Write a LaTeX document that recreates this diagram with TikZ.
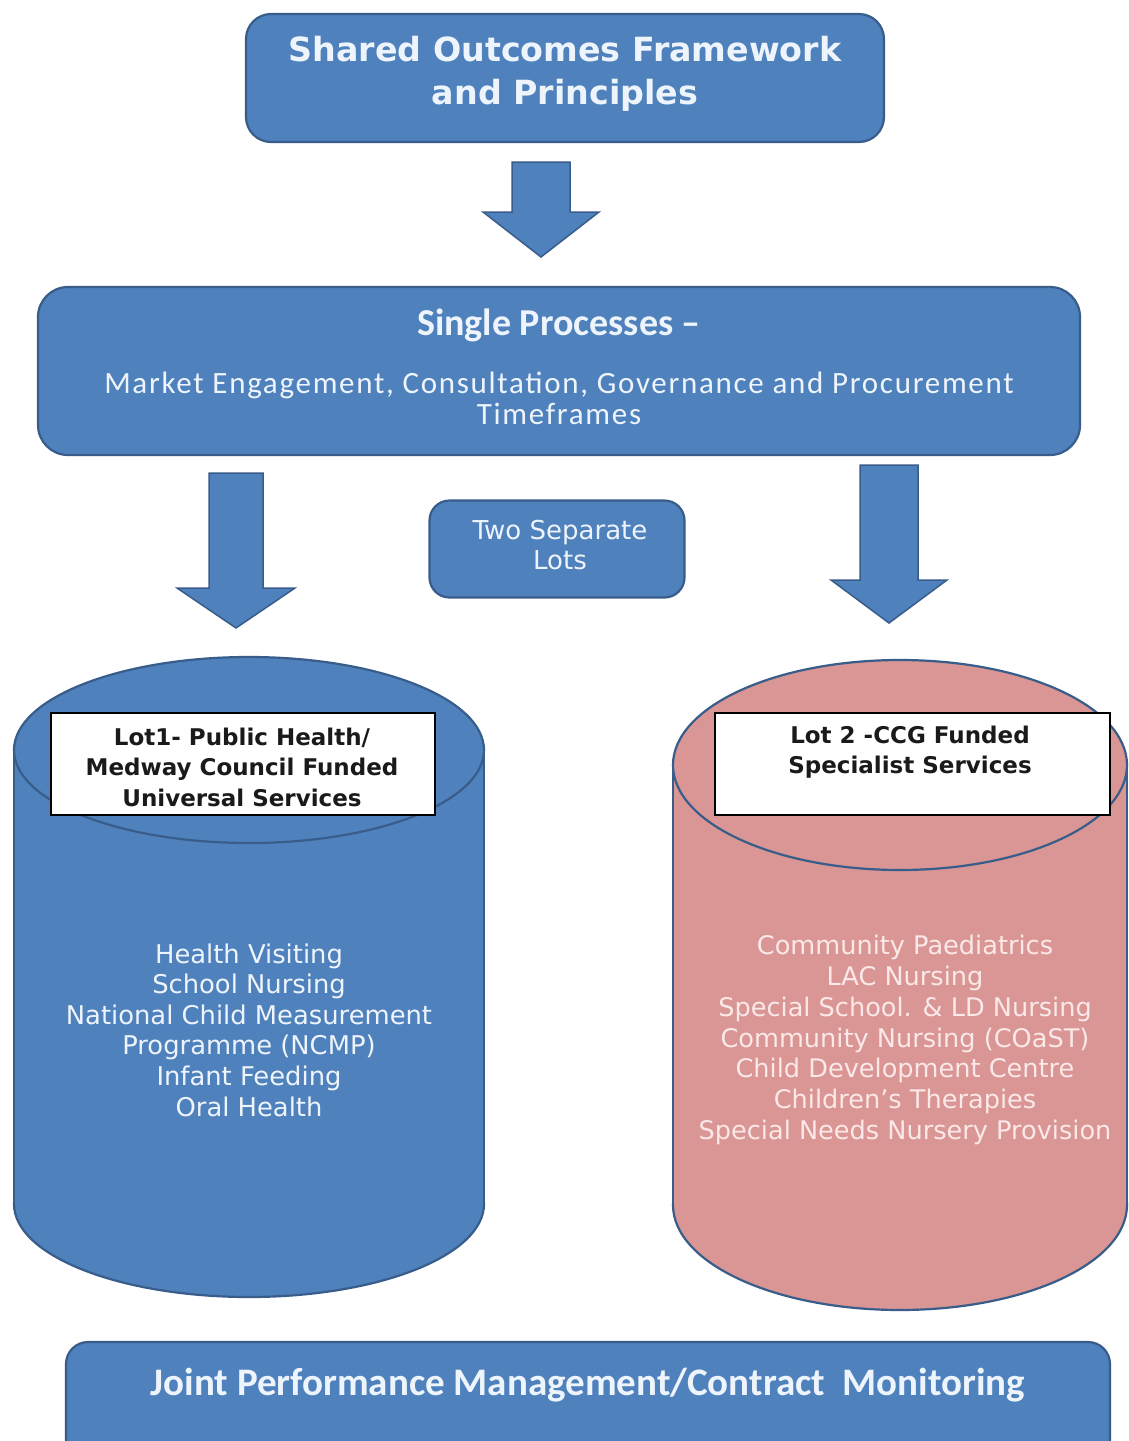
\documentclass[tikz,border=0pt]{standalone}
\usepackage{fontspec}
\setmainfont{DejaVu Sans}
\newfontfamily\calib{Carlito}
\newfontfamily\calibsp[LetterSpace=5.5]{Carlito}
\definecolor{boxblue}{HTML}{4F81BD}
\definecolor{edgeblue}{HTML}{385D8A}
\definecolor{pinkfill}{HTML}{D99694}
\definecolor{lighttxt}{HTML}{EEF4FB}
\definecolor{pinktxt}{HTML}{FBE8E8}
\definecolor{darktxt}{HTML}{1A1A1A}
\newcommand\myblockarrow[7]{% name, cx, ytop, yhead, ytip, shaft half, head half
  \coordinate (#1) at (#2,#3);
  \filldraw[arrowbody] (#2-#6,#3) -- (#2+#6,#3) -- (#2+#6,#4) -- (#2+#7,#4) -- (#2,#5) -- (#2-#7,#4) -- (#2-#6,#4) -- cycle;
}
\newcommand\mycylinder[6]{% fill, cx, rx, ytop, ybot, ry
  \filldraw[fill=#1, draw=edgeblue, line width=2.2pt] (#2,#5) ellipse (#3 and #6);
  \fill[#1] (#2-#3,#4) rectangle (#2+#3,#5);
  \draw[edgeblue, line width=2.2pt] (#2-#3,#4) -- (#2-#3,#5) (#2+#3,#4) -- (#2+#3,#5);
  \filldraw[fill=#1, draw=edgeblue, line width=2.2pt] (#2,#4) ellipse (#3 and #6);
}
\begin{document}
\begin{tikzpicture}[x=1pt,y=-1pt,
  bluebox/.style={draw=edgeblue, fill=boxblue, line width=2.2pt, inner sep=0pt},
  arrowbody/.style={draw=edgeblue, fill=boxblue, line width=1.5pt, line join=miter},
  whitebox/.style={draw=black, fill=white, line width=2pt, inner sep=0pt},
  lighttext/.style={text=lighttxt, align=center, inner sep=0pt}
]
\useasboundingbox (0,0) rectangle (1129,1441);
\fill[white] (0,0) rectangle (1129,1441);

% top box
\node[bluebox, rounded corners=25pt, minimum width=638pt, minimum height=128pt] (top) at (565,78) {};
\node[lighttext, font={\bfseries\fontsize{33.3}{43}\selectfont}] (topT) at (565,74) {Shared Outcomes Framework\\and Principles};

% arrow 1
\myblockarrow{a1}{541}{162}{212}{257}{29}{58}

% single processes box
\node[bluebox, rounded corners=30pt, minimum width=1042pt, minimum height=168pt] (single) at (559,371) {};
\node[lighttext, font={\calib\bfseries\fontsize{38}{40}\selectfont}] (singleT) at (559,325) {Single Processes –};
\node[lighttext, font={\calibsp\fontsize{31}{31}\selectfont}] (singleB) at (559,398) {Market Engagement, Consultation, Governance and Procurement\\Timeframes};

% arrows 2 and 3
\myblockarrow{a2}{236}{473}{588}{628}{27}{59}
\myblockarrow{a3}{889}{465}{580}{623}{29}{58}

% two separate lots
\node[bluebox, rounded corners=20pt, minimum width=255pt, minimum height=97pt] (two) at (557,549) {};
\node[lighttext, font={\fontsize{26}{30}\selectfont}] (twoT) at (560,545) {Two Separate\\Lots};

% cylinders
\mycylinder{boxblue}{249}{235}{750}{1204}{93}
\mycylinder{pinkfill}{900}{227}{765}{1205}{105}
\coordinate (lot1cyl) at (249,975);
\coordinate (lot2cyl) at (900,985);

% white labels
\node[whitebox, minimum width=384pt, minimum height=102pt] (lot1box) at (243,764) {};
\node[text=darktxt, align=center, inner sep=0pt, font={\bfseries\fontsize{23}{30.5}\selectfont}] (lot1T) at (242,767) {Lot1- Public Health/\\Medway Council Funded\\Universal Services};
\node[whitebox, minimum width=395pt, minimum height=102pt] (lot2box) at (912.5,764) {};
\node[text=darktxt, align=center, inner sep=0pt, font={\bfseries\fontsize{23}{30.5}\selectfont}] (lot2T) at (910,752) {Lot 2 -CCG Funded\\Specialist Services};

% lists
\node[lighttext, font={\fontsize{25.8}{30.6}\selectfont}] (list1) at (249,1030) {Health Visiting\\School Nursing\\National Child Measurement\\Programme (NCMP)\\Infant Feeding\\Oral Health};
\node[text=pinktxt, align=center, inner sep=0pt, font={\fontsize{25.6}{30.7}\selectfont}] (list2) at (905,1040) {Community Paediatrics\\LAC Nursing\\Special School. \& LD Nursing\\Community Nursing (COaST)\\Child Development Centre\\Children’s Therapies\\Special Needs Nursery Provision};

% bottom box
\node[bluebox, rounded corners=22pt, minimum width=1044pt, minimum height=120pt] (bottom) at (588,1402) {};
\node[lighttext, font={\calib\bfseries\fontsize{39}{40}\selectfont}] (bottomT) at (588,1385) {Joint Performance Management/Contract\ \ Monitoring};
\end{tikzpicture}
\end{document}
